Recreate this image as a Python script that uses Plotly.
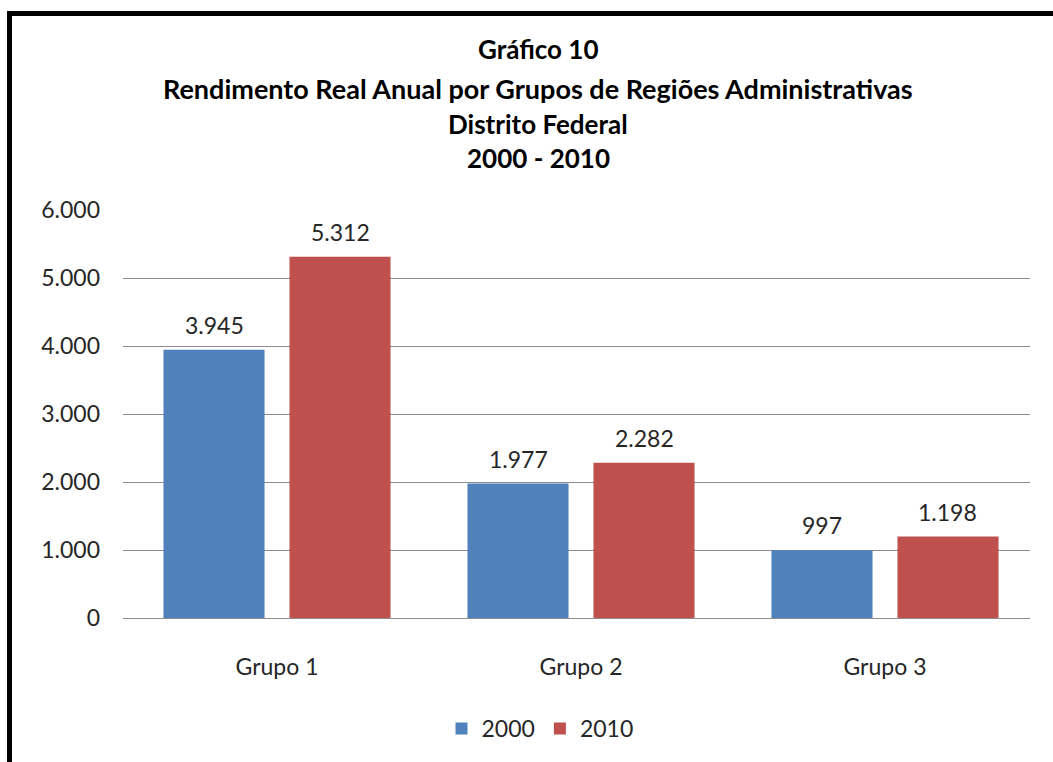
import plotly.graph_objects as go

categories = ["Grupo 1", "Grupo 2", "Grupo 3"]
values_2000 = [3945, 1977, 997]
values_2010 = [5312, 2282, 1198]
series_names = ["2000", "2010"]
title_lines = ["Gráfico 10", "Rendimento Real Anual por Grupos de Regiões Administrativas",
               "Distrito Federal", "2000 - 2010"]
tick_vals = [0, 1000, 2000, 3000, 4000, 5000, 6000]

W, H = 1053, 762
L, R, T, B = 123, 23, 210, 142
FONT = "Lato"
LBL = 23
TXT = "#262626"

fig = go.Figure()
series = [(series_names[0], values_2000, "#4F81BD", -63),
          (series_names[1], values_2010, "#C0504D", 63)]
for name, vals, col, _ in series:
    fig.add_trace(go.Bar(
        x=categories, y=vals, name=name, marker_color=col,
        marker_line_width=0, cliponaxis=False,
    ))

pw = W - L - R
ph = H - T - B
def px_x(x):
    return (x - L) / pw
def px_y(y):
    return (H - B - y) / ph

annotations = []
title_y = [48, 88, 124, 158]
title_sizes = [26, 27, 26, 26]
for txt, yy, sz in zip(title_lines, title_y, title_sizes):
    annotations.append(dict(text="<b>%s</b>" % txt, xref="paper", yref="paper",
                            x=px_x(538), y=px_y(yy), xanchor="center", yanchor="middle",
                            showarrow=False, font=dict(family=FONT, size=sz, color="#000")))

# data labels above bars
for name, vals, col, dx in series:
    for c, v in zip(categories, vals):
        annotations.append(dict(text=f"{v:,}".replace(",", "."), x=c, y=v, xref="x", yref="y",
                                xshift=dx, yshift=25, showarrow=False,
                                xanchor="center", yanchor="middle",
                                font=dict(family=FONT, size=LBL, color=TXT)))

shapes = [
    dict(type="line", xref="paper", yref="paper", x0=px_x(9.5), x1=px_x(9.5),
         y0=px_y(10), y1=px_y(770), line=dict(color="#000", width=5)),
    dict(type="line", xref="paper", yref="paper", x0=px_x(7), x1=px_x(1060),
         y0=px_y(12.5), y1=px_y(12.5), line=dict(color="#000", width=5)),
]

fig.update_layout(
    width=W, height=H,
    margin=dict(l=L, r=R, t=T, b=B, pad=0),
    paper_bgcolor="white", plot_bgcolor="white",
    separators=",.",
    barmode="group", bargap=0.171, bargroupgap=0.198,
    annotations=annotations, shapes=shapes,
    showlegend=True,
    legend=dict(orientation="h", x=px_x(540), y=px_y(731), xanchor="center", yanchor="middle",
                font=dict(family=FONT, size=LBL, color=TXT), itemwidth=30,
                traceorder="normal"),
    font=dict(family=FONT, size=LBL, color=TXT),
)
fig.update_yaxes(range=[0, 6000], tickvals=tick_vals, tickformat=",",
                 showgrid=True, gridcolor="#8C8C8C", gridwidth=1.3,
                 zeroline=False, showline=False, ticks="",
                 ticklabelstandoff=22,
                 tickfont=dict(family=FONT, size=LBL, color=TXT))
fig.update_xaxes(range=[-0.5066, 2.477],
                 showline=True, linecolor="#8C8C8C", linewidth=1.3,
                 ticks="", ticklabelstandoff=28,
                 tickfont=dict(family=FONT, size=LBL, color=TXT))

fig.write_html("out.html")
